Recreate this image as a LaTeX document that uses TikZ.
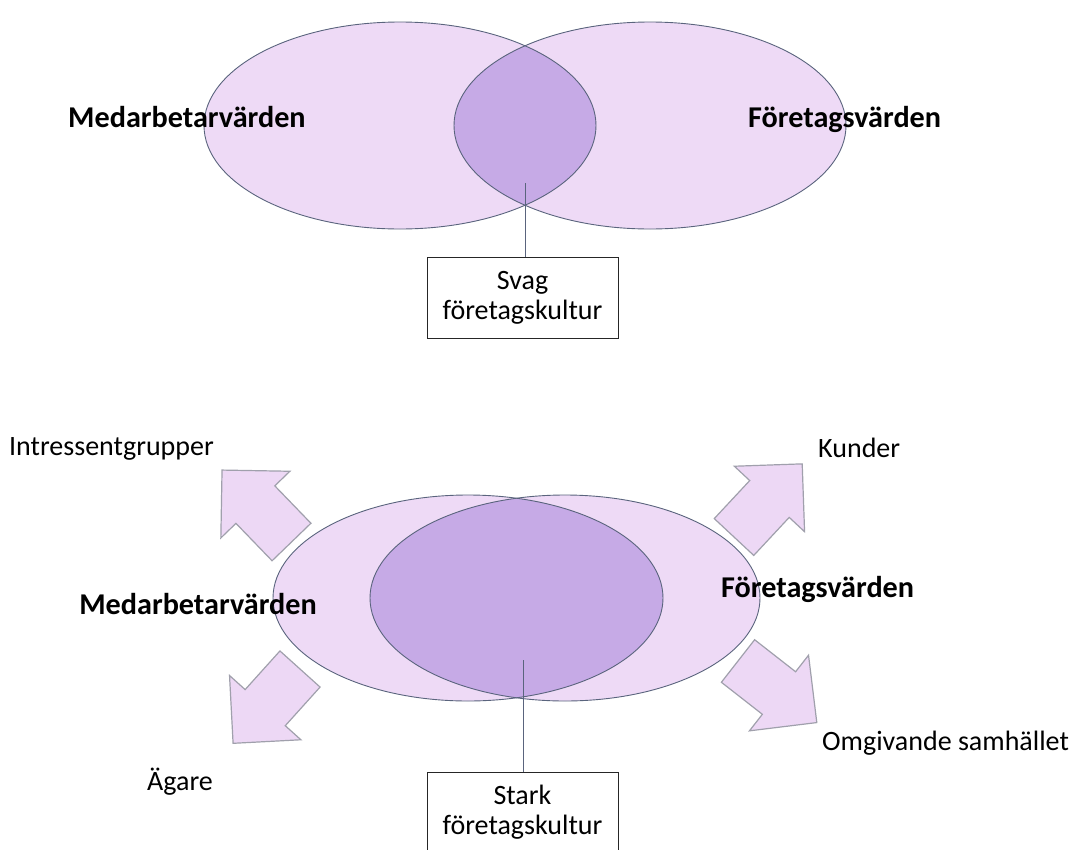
\documentclass[tikz,border=0pt]{standalone}
\usepackage{fontspec}
\setmainfont{Carlito}
\definecolor{outerfill}{RGB}{238,218,246}
\definecolor{lensfill}{RGB}{198,170,230}
\definecolor{edgecol}{RGB}{90,100,125}
\definecolor{arrowfill}{RGB}{237,216,245}
\definecolor{arrowedge}{RGB}{160,160,172}
\tikzset{
  ovalfill/.style={fill=outerfill},
  ovaledge/.style={draw=edgecol, line width=0.9pt},
  lens/.style={fill=lensfill},
  blockarrow/.pic={
    \draw[draw=arrowedge, line width=1.2pt, fill=arrowfill, line join=miter]
      (0,-27) -- (52,-27) -- (52,-48) -- (100,0) -- (52,48) -- (52,27) -- (0,27) -- cycle;
  },
  lbl/.style={inner sep=0pt, font=\fontsize{28}{30}\selectfont},
  blbl/.style={inner sep=0pt, font=\fontsize{30.2}{32}\selectfont\bfseries},
  cultbox/.style={draw=black!85, line width=1pt, fill=white, minimum width=191pt, minimum height=81pt,
    align=center, inner sep=0pt, font=\fontsize{28}{30}\selectfont},
  connector/.style={draw=edgecol, line width=0.9pt}
}
\begin{document}
\begin{tikzpicture}[x=1pt,y=-1pt]
\useasboundingbox (0,0) rectangle (1076,849);
\clip (0,0) rectangle (1076,849);
% ---------- top diagram ----------
\path[ovalfill] (400,125.5) ellipse [x radius=196, y radius=103.5];
\path[ovalfill] (650,125.5) ellipse [x radius=196, y radius=103.5];
\begin{scope}
  \clip (400,125.5) ellipse [x radius=196, y radius=103.5];
  \path[lens] (650,125.5) ellipse [x radius=196, y radius=103.5];
\end{scope}
\path[ovaledge] (400,125.5) ellipse [x radius=196, y radius=103.5];
\path[ovaledge] (650,125.5) ellipse [x radius=196, y radius=103.5];
\node[blbl, anchor=base west] (medTop) at (68,127) {Medarbetarvärden};
\node[blbl, anchor=base west] (foreTop) at (748,127) {Företagsvärden};
\coordinate (lensTop) at (525,183);
\node[cultbox] (svag) at (522.5,297.5) {Svag\\företagskultur};
\draw[connector] (lensTop) -- (lensTop |- svag.north);
% ---------- bottom diagram ----------
\pic[rotate=134] at (291.5,542) {blockarrow};
\pic[rotate=47] at (734,537) {blockarrow};
\pic[rotate=228] at (300,669) {blockarrow};
\pic[rotate=-38] at (738,661) {blockarrow};
\path[ovalfill] (468,598) ellipse [x radius=195, y radius=103];
\path[ovalfill] (565,598) ellipse [x radius=195, y radius=103];
\begin{scope}
  \clip (468,598) ellipse [x radius=195, y radius=103];
  \path[lens] (565,598) ellipse [x radius=195, y radius=103];
\end{scope}
\path[ovaledge] (468,598) ellipse [x radius=195, y radius=103];
\path[ovaledge] (565,598) ellipse [x radius=195, y radius=103];
\node[blbl, anchor=base east] (medBot) at (317,614) {Medarbetarvärden};
\node[blbl, anchor=base west] (foreBot) at (721,597) {Företagsvärden};
\node[lbl, anchor=base east] (intr) at (214,455) {Intressentgrupper};
\node[lbl, anchor=base west] (kund) at (818,457) {Kunder};
\node[lbl, anchor=base west] (agare) at (147,790) {Ägare};
\node[lbl, anchor=base west] (omg) at (822,750) {Omgivande samhället};
\coordinate (lensBot) at (523,660);
\node[cultbox] (stark) at (522.5,812.5) {Stark\\företagskultur};
\draw[connector] (lensBot) -- (lensBot |- stark.north);
\end{tikzpicture}
\end{document}
